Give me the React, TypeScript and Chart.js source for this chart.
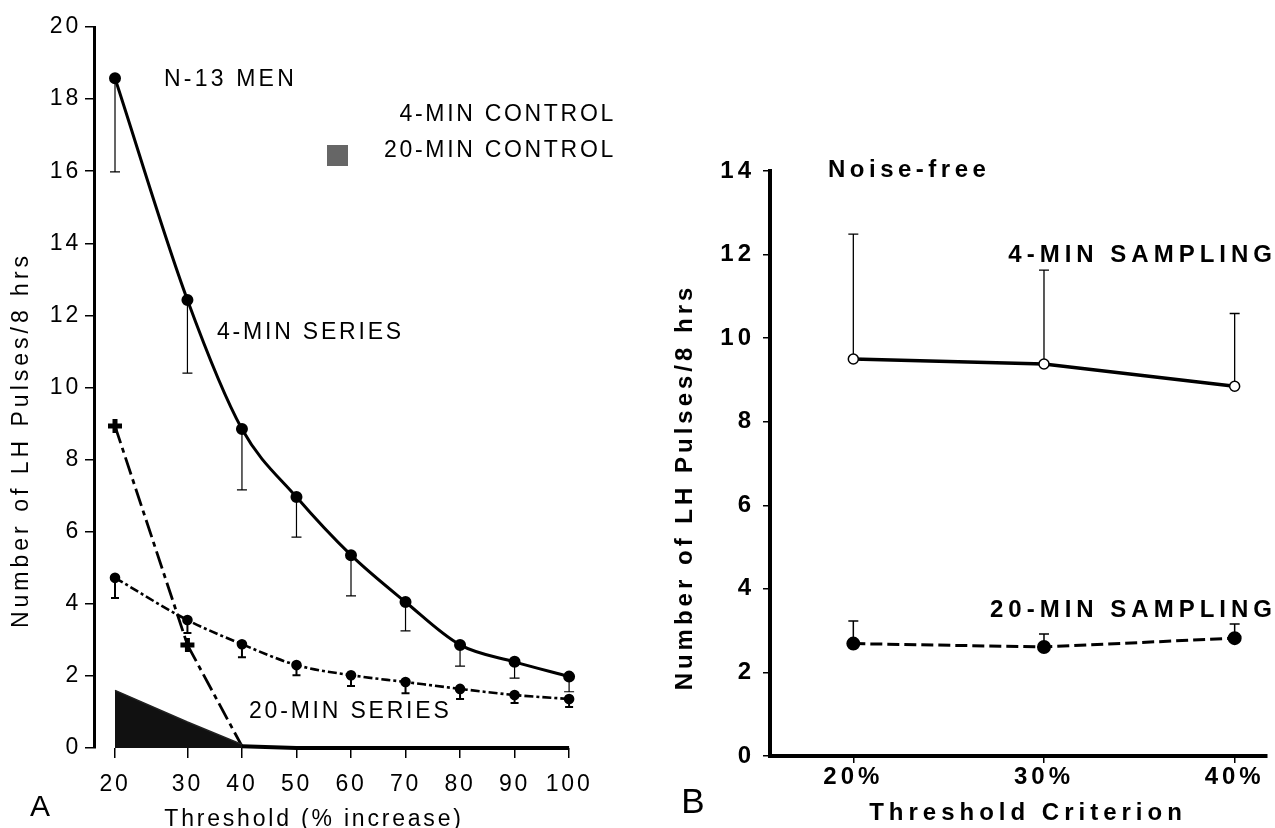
import React, { useEffect, useRef } from 'react';
import { Chart, registerables, LinearScale } from 'chart.js';

Chart.register(...registerables);

// ---------- DATA ----------
// Panel A
const thresholdsA = [20, 30, 40, 50, 60, 70, 80, 90, 100];
const series4min = [18.58, 12.43, 8.85, 6.96, 5.35, 4.05, 2.86, 2.39, 1.98];
const series4minLow = [15.98, 10.4, 7.16, 5.85, 4.22, 3.25, 2.27, 1.94, 1.56];
const series20min = [4.72, 3.55, 2.88, 2.3, 2.02, 1.83, 1.64, 1.47, 1.36];
const series20minLow = [4.16, 3.19, 2.52, 2.02, 1.72, 1.52, 1.36, 1.25, 1.14];
const control4min = [8.93, 2.86, 0.05, 0, 0, 0, 0, 0, 0];
const control20min = [1.6, 0.72, 0.1];
const yTicksA = [0, 2, 4, 6, 8, 10, 12, 14, 16, 18, 20];

// Panel B
const thresholdsB = [20, 30, 40];
const sampling4min = [9.5, 9.38, 8.85];
const sampling4minHigh = [12.49, 11.63, 10.59];
const sampling20min = [2.69, 2.61, 2.82];
const sampling20minHigh = [3.23, 2.92, 3.16];
const yTicksB = [0, 2, 4, 6, 8, 10, 12, 14];

// ---------- SCALE with a wider first interval (as drawn in the original axis) ----------
class StretchScale extends LinearScale {
  static id = 'stretch';
  static defaults = LinearScale.defaults;
  warp(v: number) {
    const o: any = this.options;
    const b = o.breakAt, s = o.stretch;
    if (b == null || s == null) return v;
    return v < b ? b - (b - v) * s : v;
  }
  unwarp(w: number) {
    const o: any = this.options;
    const b = o.breakAt, s = o.stretch;
    if (b == null || s == null) return w;
    return w < b ? b - (b - w) / s : w;
  }
  getPixelForValue(v: any) {
    if (v === null || v === undefined || isNaN(v)) return NaN;
    const a = this.warp(this.min), c = this.warp(this.max);
    return this.getPixelForDecimal((this.warp(v) - a) / (c - a));
  }
  getValueForPixel(p: number) {
    const a = this.warp(this.min), c = this.warp(this.max);
    return this.unwarp(a + this.getDecimalForPixel(p) * (c - a));
  }
}
Chart.register(StretchScale as any);

const FONT = '"Liberation Sans", Arial, Helvetica, sans-serif';

const errorBarPlugin = {
  id: 'errorBars',
  beforeDatasetsDraw(chart: any) {
    const ctx = chart.ctx;
    chart.data.datasets.forEach((ds: any, i: number) => {
      const err = ds.errorTo;
      if (!err) return;
      const meta = chart.getDatasetMeta(i);
      const yScale = chart.scales[meta.yAxisID];
      const cap = ds.errorCap || 5;
      ctx.save();
      ctx.strokeStyle = '#000';
      ctx.lineWidth = ds.errorWidth || 1.2;
      meta.data.forEach((pt: any, j: number) => {
        if (err[j] == null) return;
        const x = pt.x;
        const y1 = yScale.getPixelForValue(err[j]);
        ctx.beginPath();
        ctx.moveTo(x, pt.y);
        ctx.lineTo(x, y1);
        ctx.moveTo(x - cap, y1);
        ctx.lineTo(x + cap, y1);
        ctx.stroke();
      });
      ctx.restore();
    });
  },
};

type Txt = { t: string; x: number; y: number; size: number; bold?: boolean; align?: CanvasTextAlign; rot?: boolean; sp?: number };

function textPlugin(texts: Txt[], spacing: string, extra?: (ctx: CanvasRenderingContext2D) => void) {
  return {
    id: 'texts',
    beforeDraw(chart: any) {
      (chart.ctx as any).letterSpacing = spacing;
    },
    afterDraw(chart: any) {
      const ctx: CanvasRenderingContext2D = chart.ctx;
      ctx.save();
      ctx.fillStyle = '#000';
      ctx.textBaseline = 'middle';
      if (extra) extra(ctx);
      ctx.fillStyle = '#000';
      texts.forEach((d) => {
        ctx.font = `${d.bold ? 'bold ' : ''}${d.size}px ${FONT}`;
        (ctx as any).letterSpacing = `${d.sp ?? 3}px`;
        ctx.textAlign = d.align || 'left';
        if (d.rot) {
          ctx.save();
          ctx.translate(d.x, d.y);
          ctx.rotate(-Math.PI / 2);
          ctx.fillText(d.t, 0, 0);
          ctx.restore();
        } else {
          ctx.fillText(d.t, d.x, d.y);
        }
      });
      ctx.restore();
    },
  };
}

function makeChartA(canvas: HTMLCanvasElement) {
  const texts: Txt[] = [
    { t: 'N-13 MEN', x: 164, y: 80, size: 23, sp: 3.2 },
    { t: '4-MIN CONTROL', x: 616, y: 115, size: 23, align: 'right', sp: 2.7 },
    { t: '20-MIN CONTROL', x: 616, y: 151, size: 23, align: 'right', sp: 2.7 },
    { t: '4-MIN SERIES', x: 217, y: 333, size: 23, sp: 2.8 },
    { t: '20-MIN SERIES', x: 249, y: 712, size: 23, sp: 2.8 },
    { t: 'A', x: 40, y: 808, size: 30, align: 'center', sp: 0 },
    { t: 'Threshold (% increase)', x: 314, y: 820, size: 23, align: 'center', sp: 2.8 },
    { t: 'Number of LH Pulses/8 hrs', x: 22, y: 440, size: 23, align: 'center', rot: true, sp: 4 },
  ];
  const legendSwatch = (ctx: CanvasRenderingContext2D) => {
    ctx.fillStyle = '#666';
    ctx.fillRect(327, 145, 21, 21);
  };
  return new Chart(canvas, {
    type: 'line',
    data: {
      datasets: [
        {
          label: '20-MIN CONTROL',
          data: control20min.map((v, i) => ({ x: thresholdsA[i], y: v })),
          fill: 'origin',
          backgroundColor: '#111',
          borderColor: '#222',
          borderWidth: 1.5,
          pointRadius: 0,
          tension: 0,
          clip: 8,
        } as any,
        {
          label: '4-MIN CONTROL',
          data: control4min.map((v, i) => ({ x: thresholdsA[i], y: v })),
          borderColor: '#000',
          borderWidth: 3,
          pointStyle: 'cross',
          pointRadius: control4min.map((v, i) => (i < 2 ? 7 : 0)),
          pointBorderWidth: 5,
          pointBorderColor: '#000',
          tension: 0,
          clip: 8,
          segment: {
            borderDash: (c: any) => (c.p0DataIndex < 2 ? [18, 5, 5, 5] : []),
            borderWidth: (c: any) => (c.p0DataIndex < 2 ? 2.8 : 4),
          },
        } as any,
        {
          label: '4-MIN SERIES',
          data: series4min.map((v, i) => ({ x: thresholdsA[i], y: v })),
          borderColor: '#000',
          borderWidth: 3,
          pointRadius: 4.5,
          pointBackgroundColor: '#000',
          pointBorderColor: '#000',
          cubicInterpolationMode: 'monotone',
          errorTo: series4minLow,
          errorCap: 5,
          errorWidth: 1.2,
        } as any,
        {
          label: '20-MIN SERIES',
          data: series20min.map((v, i) => ({ x: thresholdsA[i], y: v })),
          borderColor: '#000',
          borderWidth: 2.6,
          borderDash: [9, 3, 3, 3],
          pointRadius: 4,
          pointBackgroundColor: '#000',
          pointBorderColor: '#000',
          cubicInterpolationMode: 'monotone',
          errorTo: series20minLow,
          errorCap: 4,
          errorWidth: 2,
        } as any,
      ],
    },
    options: {
      responsive: false,
      animation: false,
      devicePixelRatio: 1,
      layout: { padding: { left: 0, top: 27, right: 50, bottom: 0 } },
      plugins: { legend: { display: false }, tooltip: { enabled: false }, title: { display: false } },
      scales: {
        x: {
          type: 'stretch' as any,
          breakAt: 30,
          stretch: 1.3284,
          min: 17.1,
          max: 102,
          afterBuildTicks: (axis: any) => {
            axis.ticks = thresholdsA.map((v) => ({ value: v }));
          },
          afterFit: (axis: any) => {
            axis.height = 80;
          },
          border: { display: false },
          grid: { display: true, drawOnChartArea: false, drawTicks: true, tickLength: 10, color: '#000', lineWidth: 1.5 },
          ticks: {
            color: '#000',
            font: { family: FONT, size: 23 },
            padding: 13,
            maxRotation: 0,
            autoSkip: false,
            callback: (v: any) => String(v),
          },
        } as any,
        y: {
          type: 'linear',
          min: 0,
          max: 20,
          afterBuildTicks: (axis: any) => {
            axis.ticks = yTicksA.map((v) => ({ value: v }));
          },
          afterFit: (axis: any) => {
            axis.width = 94;
          },
          border: { display: true, color: '#000', width: 3 },
          grid: { display: true, drawOnChartArea: false, drawTicks: true, tickLength: 9, color: '#000', lineWidth: 1.5 },
          ticks: { color: '#000', font: { family: FONT, size: 23 }, padding: 4, callback: (v: any) => String(v) },
        },
      },
    } as any,
    plugins: [errorBarPlugin, textPlugin(texts, '2.8px', legendSwatch)],
  });
}

function makeChartB(canvas: HTMLCanvasElement) {
  const texts: Txt[] = [
    { t: 'Noise-free', x: 198, y: 170, size: 24, bold: true, sp: 4.5 },
    { t: '4-MIN SAMPLING', x: 647, y: 255, size: 24, bold: true, align: 'right', sp: 5 },
    { t: '20-MIN SAMPLING', x: 647, y: 610, size: 24, bold: true, align: 'right', sp: 5 },
    { t: 'B', x: 63, y: 803, size: 35, align: 'center', sp: 0 },
    { t: 'Threshold Criterion', x: 398, y: 813, size: 24, bold: true, align: 'center', sp: 5 },
    { t: 'Number of LH Pulses/8 hrs', x: 55, y: 487, size: 24, bold: true, align: 'center', rot: true, sp: 4 },
  ];
  return new Chart(canvas, {
    type: 'line',
    data: {
      datasets: [
        {
          label: '4-MIN SAMPLING',
          data: sampling4min.map((v, i) => ({ x: thresholdsB[i], y: v })),
          borderColor: '#000',
          borderWidth: 3.5,
          pointRadius: 5,
          pointBackgroundColor: '#fff',
          pointBorderColor: '#000',
          pointBorderWidth: 1.5,
          tension: 0,
          errorTo: sampling4minHigh,
          errorCap: 5,
          errorWidth: 1.3,
        } as any,
        {
          label: '20-MIN SAMPLING',
          data: sampling20min.map((v, i) => ({ x: thresholdsB[i], y: v })),
          borderColor: '#000',
          borderWidth: 3,
          borderDash: [12, 5],
          pointRadius: 5.5,
          pointBackgroundColor: '#000',
          pointBorderColor: '#000',
          tension: 0,
          errorTo: sampling20minHigh,
          errorCap: 5,
          errorWidth: 1.5,
        } as any,
      ],
    },
    options: {
      responsive: false,
      animation: false,
      devicePixelRatio: 1,
      layout: { padding: { left: 0, top: 171, right: 5, bottom: 0 } },
      plugins: { legend: { display: false }, tooltip: { enabled: false }, title: { display: false } },
      scales: {
        x: {
          type: 'linear',
          min: 15.63,
          max: 41.67,
          afterBuildTicks: (axis: any) => {
            axis.ticks = thresholdsB.map((v) => ({ value: v }));
          },
          afterFit: (axis: any) => {
            axis.height = 72;
          },
          border: { display: true, color: '#000', width: 4 },
          grid: { display: true, drawOnChartArea: false, drawTicks: true, tickLength: 7, color: '#000', lineWidth: 1.5 },
          ticks: {
            color: '#000',
            font: { family: FONT, size: 24, weight: 'bold' },
            padding: 0,
            maxRotation: 0,
            autoSkip: false,
            callback: (v: any) => `${v}%`,
          },
        },
        y: {
          type: 'linear',
          min: 0,
          max: 14,
          afterBuildTicks: (axis: any) => {
            axis.ticks = yTicksB.map((v) => ({ value: v }));
          },
          afterFit: (axis: any) => {
            axis.width = 140;
          },
          border: { display: true, color: '#000', width: 4 },
          grid: { display: true, drawOnChartArea: false, drawTicks: true, tickLength: 7, color: '#000', lineWidth: 1.5 },
          ticks: { color: '#000', font: { family: FONT, size: 24, weight: 'bold' }, padding: 8, callback: (v: any) => String(v) },
        },
      },
    } as any,
    plugins: [errorBarPlugin, textPlugin(texts, '4px')],
  });
}

export default function App() {
  const refA = useRef<HTMLCanvasElement>(null);
  const refB = useRef<HTMLCanvasElement>(null);
  useEffect(() => {
    const a = makeChartA(refA.current!);
    const b = makeChartB(refB.current!);
    return () => {
      a.destroy();
      b.destroy();
    };
  }, []);
  return (
    <div style={{ position: 'absolute', left: 0, top: 0, width: 1275, height: 828, background: '#fff', overflow: 'hidden' }}>
      <canvas ref={refA} width={630} height={828} style={{ position: 'absolute', left: 0, top: 0, width: 630, height: 828 }} />
      <canvas ref={refB} width={645} height={828} style={{ position: 'absolute', left: 630, top: 0, width: 645, height: 828 }} />
    </div>
  );
}
